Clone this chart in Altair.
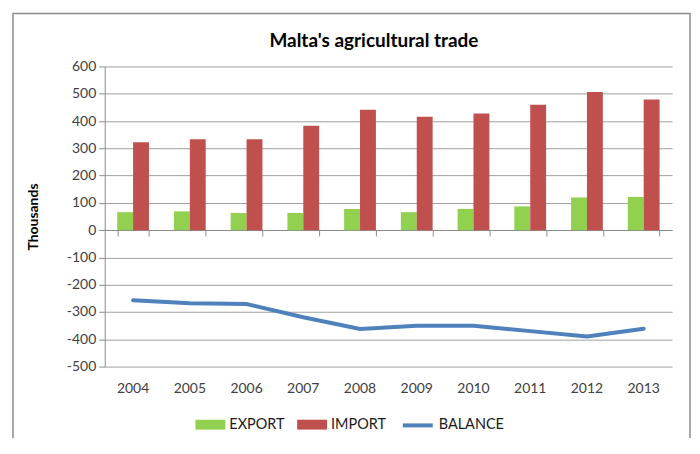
import altair as alt
import pandas as pd

years = ["2004", "2005", "2006", "2007", "2008", "2009", "2010", "2011", "2012", "2013"]
export_vals = [66, 69, 63, 63, 78, 66, 78, 87, 120, 122]
import_vals = [322, 333, 333, 383, 441, 416, 428, 460, 506, 479]
balance_vals = [-257, -268, -271, -319, -362, -350, -350, -370, -390, -361]
series_bars = ["EXPORT", "IMPORT"]
series_line = ["BALANCE"]
bar_colors = ["#92D050", "#C0504D"]
line_color = "#4F81BD"
y_ticks = [-500, -400, -300, -200, -100, 0, 100, 200, 300, 400, 500, 600]
title_text = "Malta's agricultural trade"
y_title = "Thousands"

FONT = "Lato"

bars_df = pd.DataFrame(
    [{"year": y, "series": "EXPORT", "value": v} for y, v in zip(years, export_vals)]
    + [{"year": y, "series": "IMPORT", "value": v} for y, v in zip(years, import_vals)]
)
line_df = pd.DataFrame({"year": years, "series": "BALANCE", "value": balance_vals})
one_df = pd.DataFrame({"t": [title_text]})

x_scale = alt.Scale(domain=years, paddingInner=0.44, paddingOuter=0.22)
y_scale = alt.Scale(domain=[-500, 600], nice=False, zero=False)
y_axis = alt.Axis(
    values=y_ticks, title=y_title, titleFont=FONT, titleFontSize=14,
    titleFontWeight="bold", titleColor="#000000", titleAngle=-90,
    titleX=-67, titleY=150.5, titleBaseline="alphabetic", titleAlign="center",
    labelFont=FONT, labelFontSize=14, labelColor="#404040", labelPadding=3,
    labelExpr="'' + datum.value",
    domain=True, domainColor="#8c8c8c", ticks=True, tickSize=6,
    tickColor="#8c8c8c", grid=True, gridColor="#a0a0a0", gridWidth=1,
)

frame = alt.Chart(one_df).mark_rect(
    fill="#ffffff", fillOpacity=0, stroke="#8c8c8c", strokeWidth=1.5
).encode(
    x=alt.value(-92), x2=alt.value(587), y=alt.value(-53), y2=alt.value(420)
)

bars = alt.Chart(bars_df).mark_bar().encode(
    x=alt.X("year:N", scale=x_scale, sort=years,
            axis=alt.Axis(orient="bottom", offset=-137, labels=False, title=None,
                          domain=True, domainColor="#8c8c8c", ticks=True,
                          tickSize=6, tickColor="#8c8c8c", tickBand="extent",
                          grid=False)),
    xOffset=alt.XOffset("series:N", sort=series_bars, scale=alt.Scale(domain=series_bars)),
    y=alt.Y("value:Q", scale=y_scale, axis=y_axis),
    fill=alt.Fill("series:N", scale=alt.Scale(domain=series_bars, range=bar_colors),
                  legend=alt.Legend(
                      title=None, orient="none", legendX=91, legendY=344,
                      direction="horizontal", padding=0,
                      symbolType="M-1,-0.33H1V0.33H-1Z", symbolSize=900,
                      symbolStrokeWidth=0, labelOffset=4, columnPadding=12,
                      labelFont=FONT, labelFontSize=14.5, labelColor="#1a1a1a")),
)

line = alt.Chart(line_df).mark_line(strokeWidth=4, strokeCap="round").encode(
    x=alt.X("year:N", scale=x_scale, sort=years,
            axis=alt.Axis(orient="bottom", title=None, domain=False, ticks=False,
                          labelFont=FONT, labelFontSize=14, labelColor="#404040",
                          labelPadding=15, labelAngle=0, grid=False)),
    y=alt.Y("value:Q", scale=y_scale, axis=y_axis),
    stroke=alt.Stroke("series:N", scale=alt.Scale(domain=series_line, range=[line_color]),
                      legend=alt.Legend(
                          title=None, orient="none", legendX=297, legendY=343,
                          direction="horizontal", padding=0,
                          symbolType="stroke", symbolSize=900,
                          symbolStrokeWidth=4, labelOffset=4,
                          labelFont=FONT, labelFontSize=14.5, labelColor="#1a1a1a")),
)

title = alt.Chart(one_df).mark_text(
    font=FONT, fontSize=19, fontWeight="bold", color="#000000",
    align="center", baseline="alphabetic"
).encode(
    x=alt.value(270), y=alt.value(-20), text="t:N"
)

chart = alt.layer(frame, bars, line, title).resolve_axis(
    x="independent"
).resolve_scale(
    fill="independent", stroke="independent"
).properties(
    width=569, height=301,
    autosize=alt.AutoSizeParams(type="none"),
    padding={"left": 97, "top": 58, "right": 20, "bottom": 71},
    background="#ffffff",
).configure_view(stroke=None)

chart.save("out.html", embed_options={"renderer": "svg", "actions": False})
